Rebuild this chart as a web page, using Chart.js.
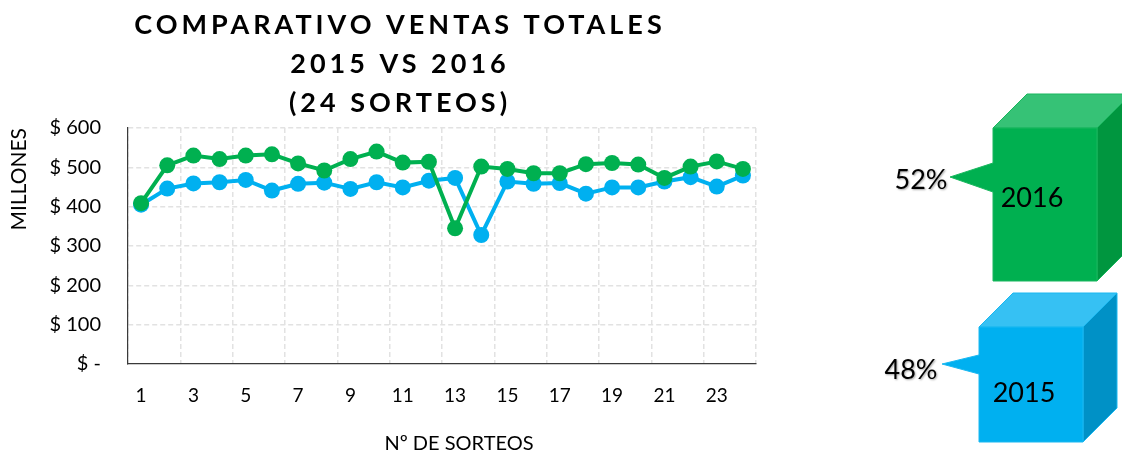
<!DOCTYPE html>
<html><head><meta charset="utf-8">
<script src="https://cdn.jsdelivr.net/npm/chart.js@4.4.1/dist/chart.umd.min.js"></script>
<style>html,body{margin:0;padding:0;background:#fff;}#wrap{width:1122px;height:453px;position:relative}</style>
</head><body><div id="wrap"><canvas id="c" width="1122" height="453"></canvas></div>
<script>
// ---- data ----
const sorteos = ['1','2','3','4','5','6','7','8','9','10','11','12','13','14','15','16','17','18','19','20','21','22','23','24'];
const ventas2015 = [405,446,459,462,468,441,458,461,445,462,449,466,473,328,464,458,460,433,449,449,464,475,451,479];
const ventas2016 = [409,505,530,521,530,533,510,492,521,540,512,514,345,502,496,485,485,508,511,507,473,502,515,496];
const yTickValues = [0,100,200,300,400,500,600];
const shareYears = ['2016','2015'];
const shareValues = [52,48];
const titleLines = ['COMPARATIVO VENTAS TOTALES','2015 VS 2016','(24 SORTEOS)'];
const xTitle = 'Nº DE SORTEOS';
const yTitle = 'MILLONES';

const GREEN = '#00B050', BLUE = '#00B0F0';
const gridColor = '#e2e2e2';

// ---- decorative layer: title, x-axis title, share cubes ----
const cubeStyles = [
  {x:993, y:128, w:104, h:153, d:34, front:'#00B050', top:'#36C276', side:'#00963F', edge:'#19B75E',
   ptr:{y1:163, y2:192, tipX:950, tipY:177}, year:{x:1032, y:198}, pct:{x:921, y:180}},
  {x:979, y:327, w:104, h:115, d:34, front:'#00B0F0', top:'#36C1F3', side:'#0091C6', edge:'#1AB8F1',
   ptr:{y1:355, y2:374, tipX:942, tipY:364}, year:{x:1024, y:393}, pct:{x:911, y:370}}
];

function poly(ctx, pts, fill, stroke) {
  ctx.beginPath();
  ctx.moveTo(pts[0][0], pts[0][1]);
  for (let i = 1; i < pts.length; i++) ctx.lineTo(pts[i][0], pts[i][1]);
  ctx.closePath();
  ctx.fillStyle = fill; ctx.fill();
  if (stroke) { ctx.strokeStyle = stroke; ctx.lineWidth = 1; ctx.stroke(); }
}

const decor = {
  id: 'decor',
  afterDraw(chart) {
    const ctx = chart.ctx;
    ctx.save();
    // chart title
    ctx.fillStyle = '#000';
    ctx.textAlign = 'center';
    ctx.textBaseline = 'middle';
    ctx.font = 'bold 27px Lato';
    ctx.letterSpacing = '4px';
    titleLines.forEach((t, i) => ctx.fillText(t, 400, 25 + i * 39));
    ctx.letterSpacing = '0px';
    // x-axis title
    ctx.font = '20px Lato';
    ctx.fillText(xTitle, 459, 444);
    // cubes
    cubeStyles.forEach((s, i) => {
      const {x, y, w, h, d} = s;
      poly(ctx, [[x, y], [x + d, y - d], [x + w + d, y - d], [x + w, y]], s.top, s.edge);
      poly(ctx, [[x + w, y], [x + w + d, y - d], [x + w + d, y + h - d], [x + w, y + h]], s.side, s.edge);
      poly(ctx, [[x, y], [x + w, y], [x + w, y + h], [x, y + h], [x, s.ptr.y2], [s.ptr.tipX, s.ptr.tipY], [x, s.ptr.y1]], s.front, s.edge);
      ctx.fillStyle = '#000';
      ctx.font = '27px Lato';
      ctx.fillText(shareYears[i], s.year.x, s.year.y);
      ctx.save();
      ctx.shadowColor = 'rgba(0,0,0,0.35)';
      ctx.shadowBlur = 2; ctx.shadowOffsetX = 1; ctx.shadowOffsetY = 1;
      ctx.fillText(shareValues[i] + '%', s.pct.x, s.pct.y);
      ctx.restore();
    });
    ctx.restore();
  }
};

new Chart(document.getElementById('c'), {
  type: 'line',
  data: {
    labels: sorteos,
    datasets: [
      {label: '2016', data: ventas2016, borderColor: GREEN, backgroundColor: GREEN, borderWidth: 4,
       pointRadius: 8, pointHoverRadius: 8, pointBorderWidth: 0, pointBackgroundColor: GREEN, tension: 0, order: 0},
      {label: '2015', data: ventas2015, borderColor: BLUE, backgroundColor: BLUE, borderWidth: 4,
       pointRadius: 8, pointHoverRadius: 8, pointBorderWidth: 0, pointBackgroundColor: BLUE, tension: 0, order: 1}
    ]
  },
  options: {
    responsive: false,
    animation: false,
    devicePixelRatio: 1,
    layout: {padding: {left: 0, top: 128, right: 366, bottom: 0}},
    plugins: {legend: {display: false}, title: {display: false}, tooltip: {enabled: false}},
    scales: {
      x: {
        offset: true,
        afterFit(s) { s.height = 89; },
        grid: {
          offset: true,
          drawTicks: false,
          lineWidth: 1.5,
          color: (c) => (c.index === undefined || c.index % 2 === 0) ? gridColor : 'rgba(0,0,0,0)'
        },
        border: {display: true, color: '#3a3a3a', width: 1.2, dash: [5, 3]},
        ticks: {
          autoSkip: false, maxRotation: 0, minRotation: 0, padding: 20,
          color: '#000', font: {family: 'Lato', size: 19},
          callback: (v, i) => i % 2 === 0 ? sorteos[i] : ''
        }
      },
      y: {
        min: 0, max: 600,
        afterFit(s) { s.width = 128; },
        afterBuildTicks(s) { s.ticks = yTickValues.map(v => ({value: v})); },
        grid: {
          drawTicks: false,
          lineWidth: 1.5,
          color: (c) => c.tick && c.tick.value === 0 ? 'rgba(0,0,0,0)' : gridColor
        },
        border: {display: true, color: '#3a3a3a', width: 1.2, dash: [5, 3]},
        title: {display: true, text: yTitle, align: 'end', color: '#000',
                font: {family: 'Lato', size: 21}, padding: {top: 7, bottom: 0}},
        ticks: {
          padding: 27, color: '#000', font: {family: 'Lato', size: 20},
          callback: (v) => v === 0 ? '$ -' : '$ ' + v
        }
      }
    }
  },
  plugins: [decor]
});
</script>
</body></html>
